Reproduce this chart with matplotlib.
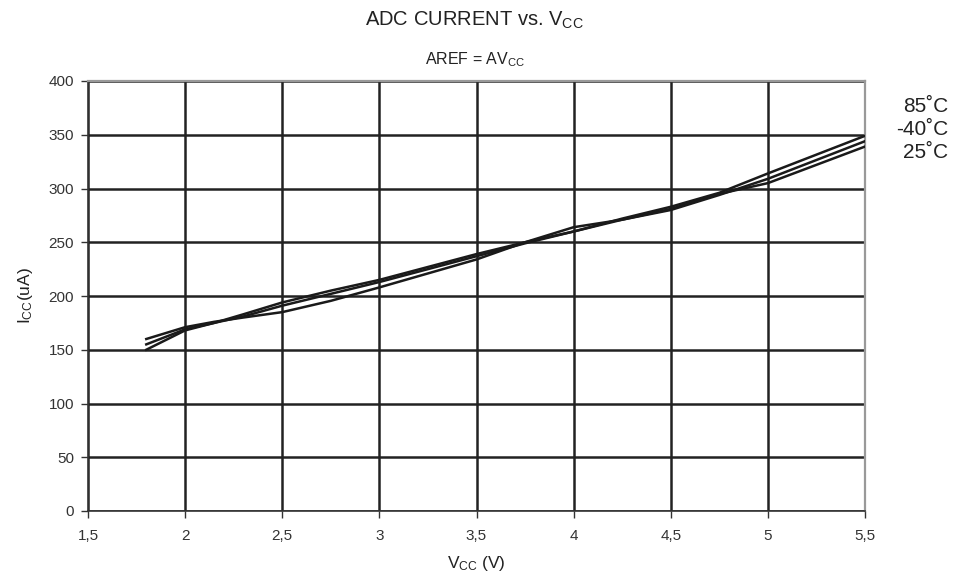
import matplotlib
matplotlib.use('Agg')
import matplotlib.pyplot as plt

plt.rcParams['font.family'] = ['Liberation Sans', 'DejaVu Sans']
plt.rcParams['mathtext.fontset'] = 'custom'
plt.rcParams['mathtext.rm'] = 'Liberation Sans'
plt.rcParams['mathtext.it'] = 'Liberation Sans'

# data
vcc = [1.8, 2.0, 2.15, 2.3, 2.5, 2.75, 3.0, 3.5, 3.75, 4.0, 4.25, 4.5, 4.75, 5.0, 5.5]
i_85 = [150, 168, 175, 181, 191, 202, 213, 237, 249, 260, 272, 283, 296, 314, 349]
i_m40 = [155, 169, 175, 183, 194, 205, 215, 239, 250, 260, 271, 280, 294, 309, 344]
i_25 = [160, 171, 176, 180, 185, 195.5, 208, 234, 250, 264, 271, 281, 295, 305, 339]
series = [('85˚C', i_85), ('-40˚C', i_m40), ('25˚C', i_25)]

x_ticks = [1.5, 2, 2.5, 3, 3.5, 4, 4.5, 5, 5.5]
x_labels = ['1,5', '2', '2,5', '3', '3,5', '4', '4,5', '5', '5,5']
y_ticks = [0, 50, 100, 150, 200, 250, 300, 350, 400]

dpi = 100
fig = plt.figure(figsize=(963 / dpi, 587 / dpi), dpi=dpi, facecolor='white')
ax = fig.add_axes([88 / 963, 1 - 511 / 587, (865 - 88) / 963, (511 - 81) / 587])

for lab, vals in series:
	ax.plot(vcc, vals, color='#1a1a1a', lw=1.8, zorder=3)

ax.set_xlim(1.5, 5.5)
ax.set_ylim(0, 400)
ax.set_xticks(x_ticks)
ax.set_xticklabels(x_labels)
ax.set_yticks(y_ticks)
ax.grid(True, color='#222222', lw=1.8)
ax.tick_params(direction='out', length=5, width=1, colors='#333333', labelsize=11, pad=5)
ax.tick_params(axis='x', pad=8)

for s in ['left', 'bottom']:
	ax.spines[s].set_color('#333333')
	ax.spines[s].set_linewidth(1.2)
for s in ['top', 'right']:
	ax.spines[s].set_color('#999999')
	ax.spines[s].set_linewidth(1.6)

ax.set_xlabel('V$_{\\mathrm{CC}}$ (V)', fontsize=12.5, color='#222222', labelpad=8)
ax.set_ylabel('I$_{\\mathrm{CC}}$(uA)', fontsize=12.5, color='#222222', labelpad=10)

fig.text(0.493, 1 - 20 / 587, 'ADC CURRENT vs. V$_{\\mathrm{CC}}$', ha='center', va='center',
	fontsize=14.5, color='#222222')
fig.text(0.493, 1 - 60 / 587, 'AREF = AV$_{\\mathrm{CC}}$', ha='center', va='center',
	fontsize=11.5, color='#222222')

label_y = [107, 130, 153]
for (lab, vals), py in zip(series, label_y):
	fig.text(948 / 963, 1 - py / 587, lab, ha='right', va='center', fontsize=15, color='#222222')

fig.savefig('out.png', dpi=dpi, facecolor='white')
